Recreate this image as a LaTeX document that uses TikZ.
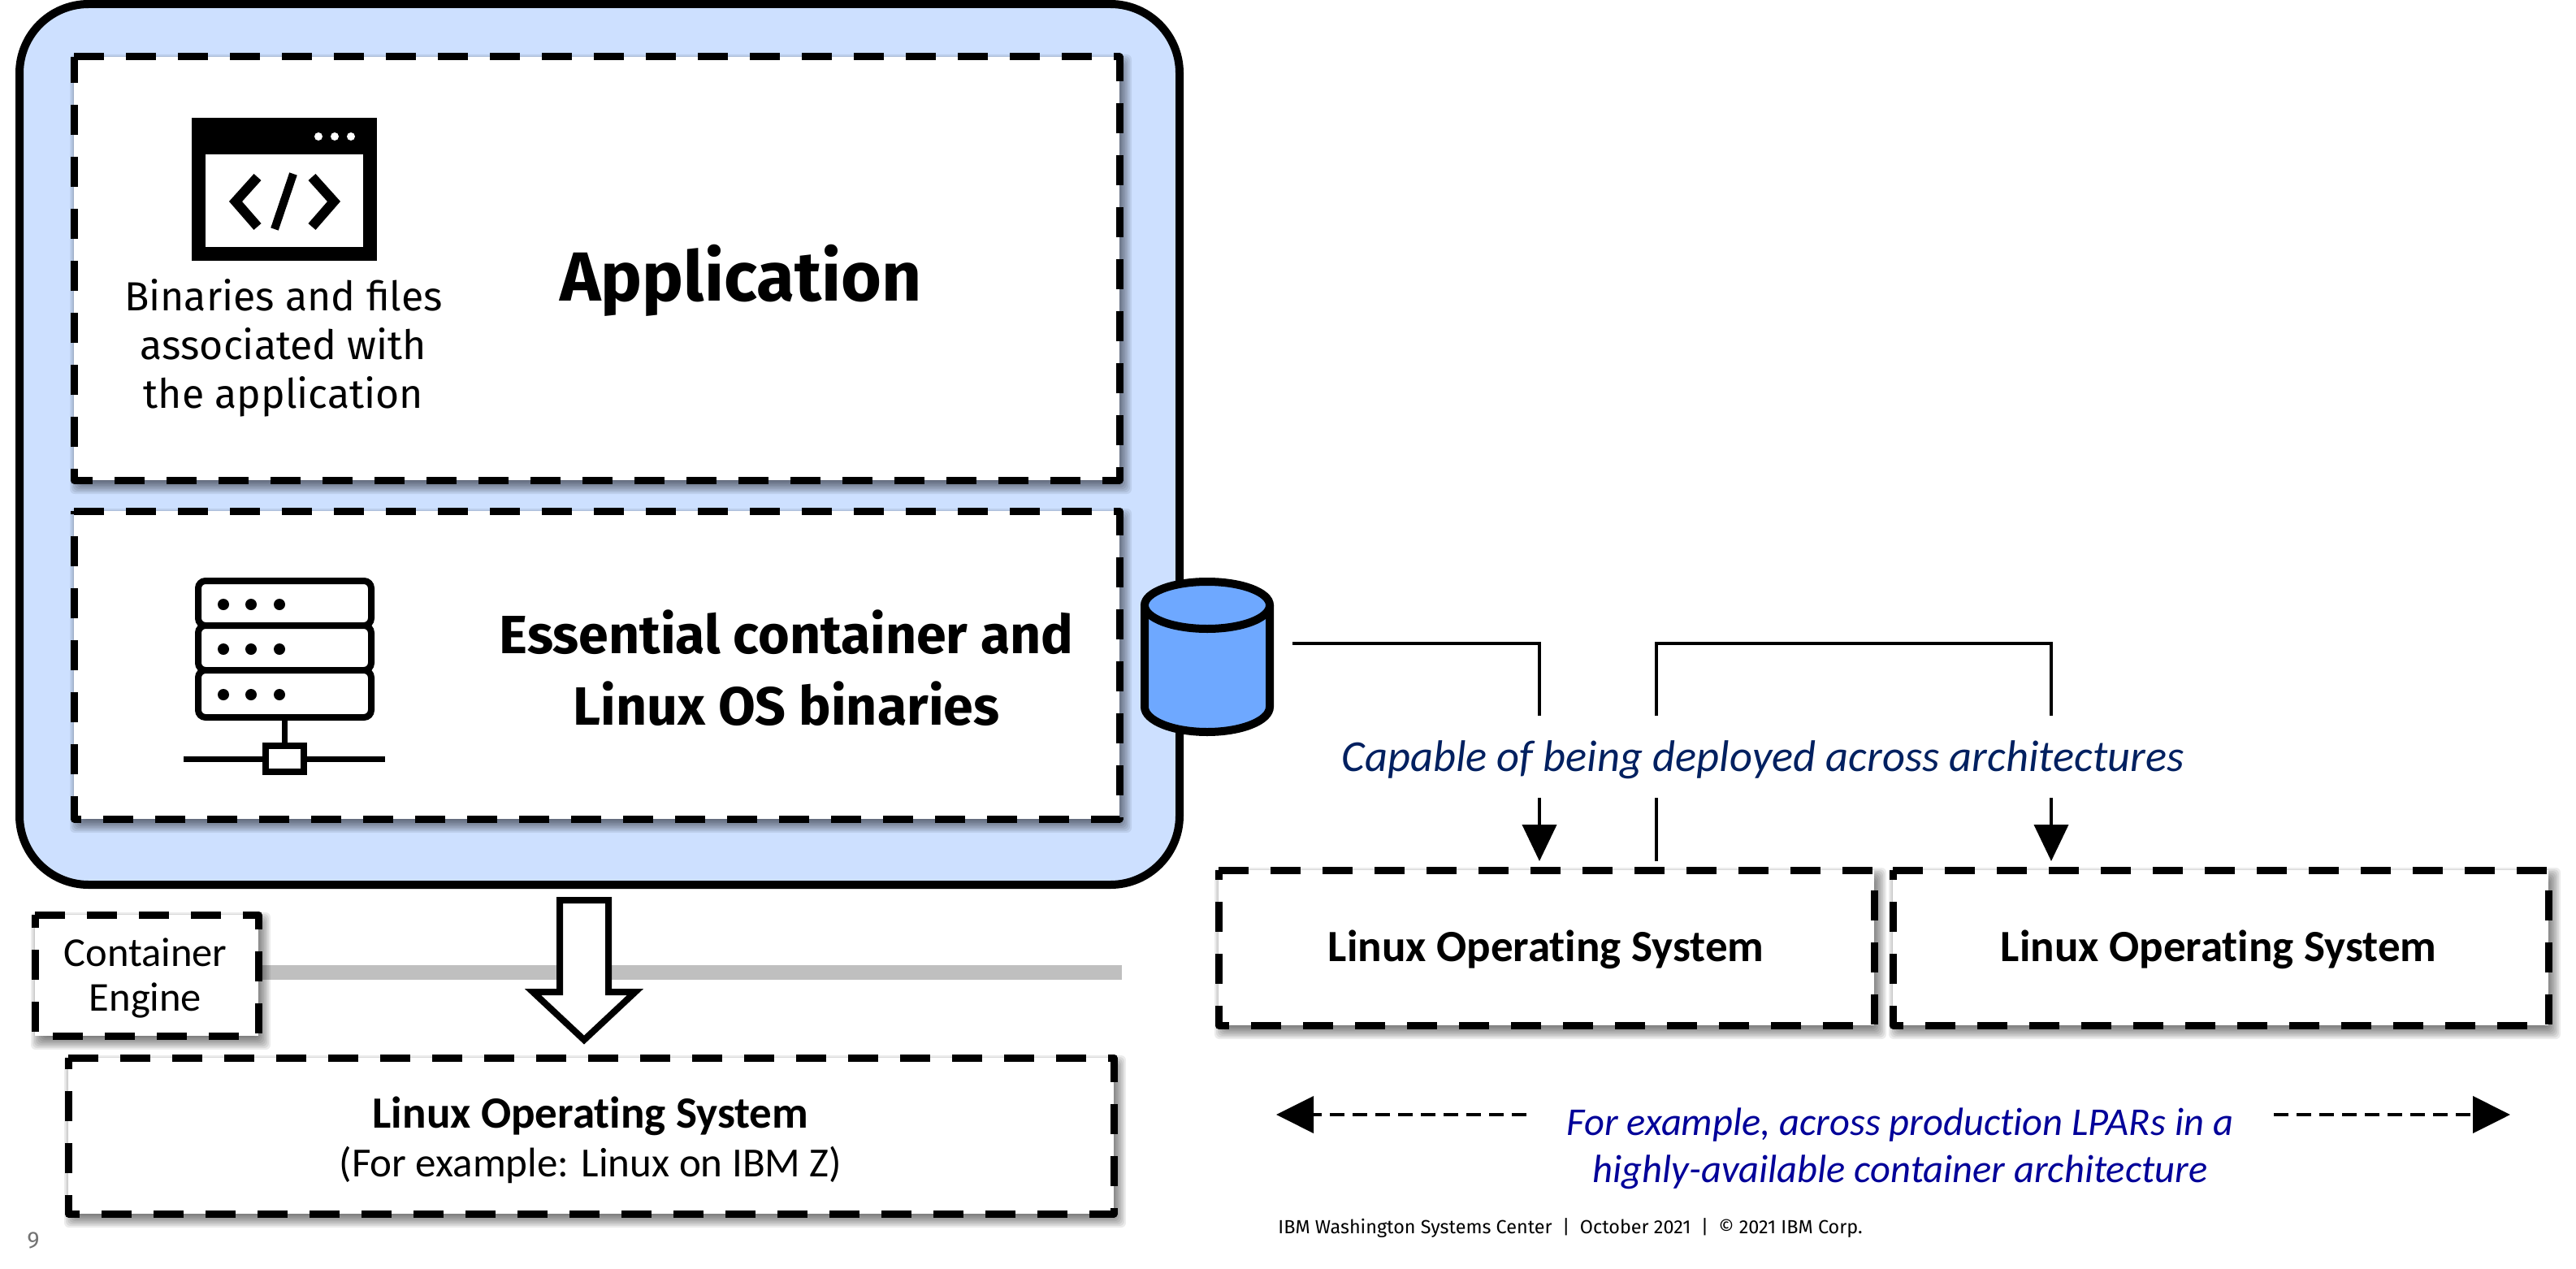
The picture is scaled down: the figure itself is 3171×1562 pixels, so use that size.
\documentclass[tikz,border=0pt]{standalone}
\usepackage{fontspec}
\usetikzlibrary{arrows.meta}
\setmainfont{Fira Sans}
\newfontfamily\plexf{Fira Sans}
\newfontfamily\calf[Ligatures=NoCommon]{Carlito}
\definecolor{boxblue}{HTML}{CDE0FF}
\definecolor{cylblue}{HTML}{6EA8FF}
\definecolor{navyt}{HTML}{002060}
\definecolor{bluet}{HTML}{000099}
\definecolor{barg}{HTML}{BFBFBF}
\tikzset{
  x=1pt,y=-1pt,
  dashline/.style={line width=9pt,line join=round,dash pattern=on 37pt off 27pt},
  conn/.style={line width=4pt},
  tip/.style={-{Triangle[length=45pt,width=42pt]}},
  lbl/.style={inner sep=0pt,outer sep=0pt,align=center,anchor=center},
  ic/.style={line width=8pt,rounded corners=9pt,fill=white},
}
% name, x1,y1,x2,y2
\newcommand{\dbox}[5]{%
  \foreach \e in {-8,-6,-4,-2,0,2,4,6,8,10}{
    \fill[black,opacity=.075,rounded corners=6pt] ({#2+5-\e},{#3+7-\e}) rectangle ({#4+5+\e},{#5+7+\e});
  }
  \pgfmathsetmacro{\cxv}{(#2+#4)/2}
  \pgfmathsetmacro{\cyv}{(#3+#5)/2}
  \pgfmathsetmacro{\wv}{#4-#2}
  \pgfmathsetmacro{\hv}{#5-#3}
  \node[fill=white,inner sep=0pt,outer sep=0pt,minimum width=\wv pt,minimum height=\hv pt] (#1) at (\cxv,\cyv) {};
  \draw[dashline] (#1.north west) -- (#1.north east) -- (#1.south east) -- (#1.south west) -- cycle;
}
\begin{document}
\begin{tikzpicture}
\useasboundingbox[fill=white] (0,0) rectangle (3171,1562);
% outer container
\node[draw=black,fill=boxblue,line width=10pt,rounded corners=85pt,minimum width=1428pt,minimum height=1084pt,inner sep=0pt] (container) at (738,547) {};
% bar
\fill[barg] (318,1188) rectangle (1381,1206);
% boxes
\dbox{appbox}{91}{70}{1378}{591}
\dbox{osbox}{91}{629}{1378}{1008}
\dbox{engine}{43}{1126}{318}{1275}
\dbox{lowos}{84}{1302}{1371}{1494}
\dbox{osa}{1500}{1071}{2307}{1262}
\dbox{osb}{2330}{1071}{3137}{1262}
% window icon
\fill[black] (236,145) rectangle (464,321);
\fill[white] (253,190) rectangle (447,304);
\foreach \dx in {392,412,432}{\fill[white] (\dx,168) circle (5pt);}
\draw[line width=12pt,miter limit=10] (317,218) -- (290,248) -- (317,279);
\draw[line width=12pt,miter limit=10] (384,218) -- (411,248) -- (384,279);
\draw[line width=10pt] (361,214) -- (338,282);
% texts
\node[lbl,font=\plexf\fontsize{50}{60}\selectfont] (bin) at (349,428) {Binaries and files\\associated with\\the application};
\node[lbl,font=\plexf\bfseries\fontsize{85.5}{90}\selectfont] (app) at (912,345) {Application};
\node[lbl,font=\plexf\bfseries\fontsize{66.3}{88}\selectfont] (ess) at (968,822) {Essential container and\\Linux OS binaries};
% server icon
\foreach \ya/\yb in {715/770,770/825,825/883}{\draw[ic] (244,\ya) rectangle (457,\yb);}
\foreach \yy in {744,799,855}{\foreach \xx in {275,309,344}{\fill (\xx,\yy) circle (7pt);}}
\draw[line width=7pt] (350,883) -- (350,918);
\draw[line width=7pt] (226,934) -- (474,934);
\draw[line width=8pt,fill=white] (327,918) rectangle (374,950);
% cylinder
\draw[line width=10pt,fill=cylblue] (1409,745) -- (1409,870) arc[start angle=180,end angle=360,x radius=77pt,y radius=31pt] -- (1563,745);
\draw[line width=10pt,fill=cylblue] (1486,745) ellipse[x radius=77pt,y radius=29pt];
% block arrow
\draw[line width=8pt,fill=white,miter limit=10] (689,1108) -- (749,1108) -- (749,1221) -- (782,1221) -- (719,1280) -- (656,1221) -- (689,1221) -- cycle;
% engine text
\node[lbl,font=\calf\fontsize{50.5}{55}\selectfont] (etext) at (179,1204) {Container\\Engine};
\node[lbl,font=\calf\fontsize{51}{60}\selectfont] (lowt) at (727,1403) {{\bfseries\fontsize{55}{60}\selectfont Linux Operating System}\\(For example: Linux on IBM Z)};
\node[lbl,font=\calf\bfseries\fontsize{55}{60}\selectfont] (osat) at (1903,1169) {Linux Operating System};
\node[lbl,font=\calf\bfseries\fontsize{55}{60}\selectfont] (osbt) at (2731,1169) {Linux Operating System};
% connectors
\coordinate (cs) at (1591,792);
\coordinate (ca) at (1895,792);
\coordinate (cb) at (1895,881);
\coordinate (cc) at (1895,982);
\coordinate (cd) at (1895,1060);
\coordinate (ds) at (2039,881);
\coordinate (da) at (2039,792);
\coordinate (db) at (2525,792);
\coordinate (dc) at (2525,881);
\coordinate (dd) at (2039,982);
\coordinate (de) at (2039,1060);
\coordinate (df) at (2525,982);
\coordinate (dg) at (2525,1060);
\draw[conn] (cs) -- (ca) -- (cb);
\draw[conn] (ds) -- (da) -- (db) -- (dc);
\draw[conn,tip] (cc) -- (cd);
\draw[conn] (dd) -- (de);
\draw[conn,tip] (df) -- (dg);
\node[lbl,text=navyt,font=\calf\itshape\fontsize{54.5}{60}\selectfont] (cap) at (2170,935) {Capable of being deployed across architectures};
% dashed arrows
\coordinate (la) at (1879,1372);
\coordinate (lb) at (1571,1372);
\coordinate (ra) at (2799,1372);
\coordinate (rb) at (3090,1372);
\draw[line width=4pt,dash pattern=on 18pt off 10pt,-{Triangle[length=46pt,width=45pt]}] (la) -- (lb);
\draw[line width=4pt,dash pattern=on 18pt off 10pt,-{Triangle[length=46pt,width=45pt]}] (ra) -- (rb);
\node[lbl,text=bluet,font=\calf\itshape\fontsize{48.5}{58}\selectfont] (fex) at (2339,1414) {For example, across production LPARs in a\\highly-available container architecture};
% footer
\node[lbl,font=\plexf\fontsize{23.4}{28}\selectfont] (foot) at (1933,1512) {IBM Washington Systems Center\ \ |\ \ October 2021\ \ |\ \ © 2021 IBM Corp.};
\node[lbl,text=black!55,font=\plexf\fontsize{29}{34}\selectfont] (pg) at (41,1527) {9};
\end{tikzpicture}
\end{document}
